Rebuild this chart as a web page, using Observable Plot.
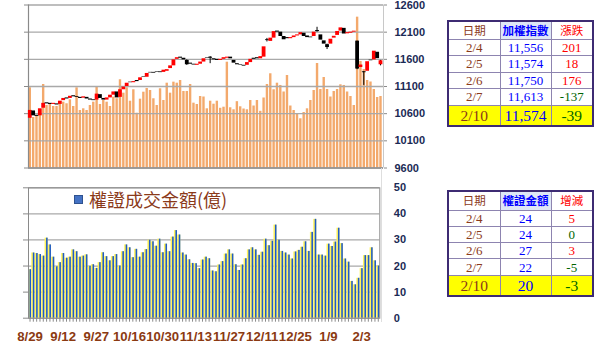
<!DOCTYPE html>
<html><head><meta charset="utf-8">
<script src="https://cdn.jsdelivr.net/npm/d3@7"></script>
<script src="https://cdn.jsdelivr.net/npm/@observablehq/plot@0.6"></script>
<style>
body{margin:0;background:#fff;}
#wrap{position:relative;width:598px;height:349px;overflow:hidden;background:#fff;}
.layer{position:absolute;left:0;}
table.t{position:absolute;border-collapse:collapse;border:2px solid #3d2b73;table-layout:fixed;width:145px;}
table.t td{border:1px solid #8d84b0;text-align:center;padding:0;font-family:"Liberation Serif",serif;font-size:13px;line-height:1;white-space:nowrap;overflow:hidden;}
table.t tr.h td{font-family:"Noto Sans CJK TC",sans-serif;font-size:11.5px;}
table.t tr.last td{background:#ffff00;font-size:15.5px;}
#legend{position:absolute;left:74px;top:188px;height:22px;display:flex;align-items:center;font-family:"Noto Sans CJK TC",sans-serif;font-size:18px;color:#8b3a1a;white-space:nowrap;}
#legend span.sw{display:inline-block;width:7px;height:7px;background:#4472c4;border:1px solid #2f528f;margin-right:6px;}
#vline{position:absolute;left:381px;top:168px;width:1px;height:154px;background:#dedede;}
</style></head>
<body><div id="wrap"></div>
<script>
// ---------- data ----------
const xLabels = ["8/29","9/12","9/27","10/16","10/30","11/13","11/27","12/11","12/25","1/9","2/3"];
const indexTicks = [9600,10100,10600,11100,11600,12100,12600];
const warrantTicks = [0,10,20,30,40,50];
const openIdx = [10515,10650,10570,10560,10700,10800,10790,10770,10780,10770,
10840,10890,10880,10930,10915,10900,10885,10900,10870,10855,
10850,10950,10880,10850,10890,10940,11000,10900,11040,11100,
11180,11170,11210,11210,11280,11270,11360,11360,11370,11370,
11360,11380,11430,11480,11600,11640,11620,11580,11530,11510,
11490,11510,11550,11630,11640,11610,11600,11580,11600,11620,
11640,11580,11520,11500,11490,11490,11540,11620,11630,11610,
11640,11960,11930,11990,12120,12100,12020,12000,11980,12000,
12030,12050,12080,12030,12010,12020,12130,12050,11940,11870,
11880,11990,12040,12120,12170,12070,12080,12100,11935,11450,
11370,11380,11585,11590,11730,11500];
const closeIdx = [10660,10560,10550,10690,10790,10780,10770,10790,10760,10830,
10880,10870,10920,10910,10900,10880,10910,10870,10850,10840,
10960,10880,10850,10890,10940,11000,10890,11040,11090,11160,
11170,11190,11190,11260,11270,11340,11350,11345,11360,11355,
11400,11410,11480,11590,11630,11620,11590,11500,11510,11495,
11510,11550,11610,11620,11620,11590,11580,11600,11630,11640,
11610,11530,11500,11490,11475,11540,11600,11600,11610,11650,
11830,11945,11990,12110,12100,12020,11960,11980,12000,12030,
12050,12090,12020,12000,11997,12100,12110,11953,11880,11817,
11970,12024,12113,12179,12066,12091,12100,12118,11421,11495,
11354,11556,11574,11750,11613,11574];
// wicks: [day index, low, high]
const wicks = [[47,11490,11590],[54,11520,11650],[71,11920,11985],[86,12100,12190],[89,11780,11880],[98,11410,11935],[100,11120,11376],[105,11480,11580]];
// market turnover (orange bars, 億)
const volume = [1550,976,996,1073,1614,1208,1241,1189,1189,1241,
1272,1241,1318,1189,1550,1111,1144,1111,1208,1272,
1575,1227,1305,1272,1189,1369,1338,1705,1446,1550,
1291,1512,1059,1330,1465,1537,1498,1338,1208,1531,
1305,1639,1446,1659,1639,1691,1479,1479,1614,1253,
1227,1382,1372,1144,1291,1233,1291,1154,1175,2045,
1164,1125,1282,1183,1140,1125,1305,1198,1305,1096,
1353,1614,1821,1512,1639,1595,1469,1788,1198,1111,
1048,951,1073,1144,1305,1498,2020,1517,1749,1517,
1372,1479,1517,1608,1595,1469,1382,1208,2915,2059,
1904,1691,1662,1517,1363,1382];
// warrant turnover (億)
const warrant = [18.6,25,24.8,24.4,23.8,30.7,28.1,23.4,19.7,21.3,
24.8,23,23.4,26.2,25.5,23.4,23.8,24.3,19.9,20.5,
19.1,21.3,25.1,23.6,22,23.6,24.4,20,25.5,28.1,
27,23.2,26.4,23.4,25.1,26.3,29.9,29.3,27.6,30.3,
25.1,28.4,25.5,31.1,33.6,31.9,25,24.2,22.4,21,
20.9,19,22.3,23.4,22.8,18.1,17.8,20.4,21.7,24.6,
26.2,24.6,20.5,18.3,20.4,22.8,26.2,27,26.2,24.1,
25.3,30.3,27.8,29.5,35.7,29.9,25.6,25,24.2,22.7,
25.4,26,27.2,29.3,25.6,32.9,37.9,24.2,24.2,23.8,
28.4,27.5,29.2,34.5,28.6,22.7,21.5,14.1,12.8,15.3,
19,24,24,27,22,20];
// tables
const tableDates = ["2/4","2/5","2/6","2/7","2/10"];
const indexValues = ["11,556","11,574","11,750","11,613","11,574"];
const indexChanges = [201,18,176,-137,-39];
const warrantValues = [24,24,27,22,20];
const warrantChanges = [5,0,3,-5,-3];
const legendText = "權證成交金額(億)";

// ---------- build ----------
const wrap = document.getElementById("wrap");
const N = closeIdx.length;
const days = d3.range(N);
const candles = days.map(i => ({i, o: openIdx[i], c: closeIdx[i], up: closeIdx[i] >= openIdx[i]}));
const xTop = [-0.39, 105.9];
const axisFont = {fontFamily: "Liberation Sans, Arial, sans-serif", fontSize: "11px", fontWeight: "bold"};

function place(el, top){ el.classList.add("layer"); el.style.top = top + "px"; wrap.appendChild(el); }

// layer 1: orange turnover bars
place(Plot.plot({
  width: 598, height: 175, marginLeft: 28, marginRight: 215, marginTop: 4.5, marginBottom: 7.5,
  style: {background: "transparent"},
  x: {domain: xTop, axis: null},
  y: {domain: [0, 3150], axis: null},
  marks: [
    Plot.ruleX(days, {x: i => i, y1: 0, y2: i => volume[i], stroke: "#f3a96c", strokeWidth: 2.4})
  ]
}), 0);

// layer 2: index candles + axes
place(Plot.plot({
  width: 598, height: 175, marginLeft: 28, marginRight: 215, marginTop: 4.5, marginBottom: 7.5,
  style: Object.assign({background: "transparent", overflow: "visible"}, axisFont),
  x: {domain: xTop, axis: null},
  y: {domain: [9600, 12600], axis: null},
  marks: [
    Plot.gridY(indexTicks, {stroke: "#a9a9a9", strokeOpacity: 1, strokeWidth: 1.3}),
    Plot.ruleX([xTop[1]], {stroke: "#c8c8c8"}),
    Plot.ruleX([xTop[0]], {stroke: "#8a8a8a", strokeWidth: 1.2}),
    Plot.ruleY([9600], {stroke: "#7a7a7a", strokeWidth: 1.2}),
    Plot.axisY(indexTicks, {anchor: "left", tickSize: 4, tickFormat: () => "", stroke: "#8a8a8a"}),
    Plot.axisY(indexTicks, {anchor: "right", tickSize: 3, tickPadding: 8, tickFormat: d => String(d), stroke: "#8a8a8a", fill: "#1b2a55", textAnchor: "start"}),
    Plot.ruleX(wicks, {x: d => d[0], y1: d => d[1], y2: d => d[2], stroke: "#000", strokeWidth: 1}),
    Plot.ruleX(candles, {x: "i", y1: "o", y2: "c", stroke: d => d.up ? "#ff0000" : "#000000", strokeWidth: 3.8})
  ]
}), 0);

// bottom: warrant turnover
place(Plot.plot({
  width: 598, height: 174, marginLeft: 28, marginRight: 218.7, marginTop: 12.3, marginBottom: 31.3,
  style: Object.assign({background: "transparent", overflow: "visible"}, axisFont),
  x: {type: "band", domain: days, paddingInner: 0.08, paddingOuter: 0, axis: null},
  y: {domain: [0, 50], axis: null},
  marks: [
    Plot.gridY(warrantTicks, {stroke: "#a9a9a9", strokeOpacity: 1, strokeWidth: 1.3}),
    Plot.barY(days, {x: i => i, y: i => warrant[i], fill: "#fff35c"}),
    Plot.barY(days, {x: i => i, y: i => warrant[i], fill: "#1f5bc8", insetLeft: 1.5}),
    Plot.frame({stroke: "#8a8a8a"}),
    Plot.axisY(warrantTicks, {anchor: "left", tickSize: 5, tickFormat: () => "", stroke: "#8a8a8a"}),
    Plot.axisY(warrantTicks, {anchor: "right", tickSize: 0, tickPadding: 14, tickFormat: d => String(d), fill: "#1b2a55", textAnchor: "start"}),
    Plot.axisX(days, {tickSize: 4, tickPadding: 9, stroke: "#8a8a8a", fill: "#8b3a12", fontSize: "13.2px",
      tickFormat: i => i % 10 === 0 ? xLabels[i / 10] : ""})
  ]
}), 175);

// legend
const lg = document.createElement("div");
lg.id = "legend";
lg.innerHTML = '<span class="sw"></span>' + legendText;
wrap.appendChild(lg);
const vl = document.createElement("div"); vl.id = "vline"; wrap.appendChild(vl);

// tables
function makeTable(top, heads, vals, chgs, rowH, headH, lastH) {
  const t = document.createElement("table");
  t.className = "t";
  t.style.left = "447px"; t.style.top = top + "px";
  const cg = document.createElement("colgroup");
  [52, 51, 42].forEach(w => { const c = document.createElement("col"); c.style.width = w + "px"; cg.appendChild(c); });
  t.appendChild(cg);
  const hr = document.createElement("tr"); hr.className = "h"; hr.style.height = headH + "px";
  const hc = ["#8b3a1a", "#0000ff", "#ff0000"];
  heads.forEach((h, k) => { const td = document.createElement("td"); td.textContent = h; td.style.color = hc[k];
    if (k === 1) { td.style.background = "#dfe7f6"; td.style.fontWeight = "bold"; } hr.appendChild(td); });
  t.appendChild(hr);
  tableDates.forEach((d, r) => {
    const tr = document.createElement("tr");
    const last = r === tableDates.length - 1;
    if (last) tr.className = "last";
    tr.style.height = (last ? lastH : rowH) + "px";
    const cells = [d, String(vals[r]), String(chgs[r])];
    const cols = ["#8b3a1a", "#0000ff", chgs[r] > 0 ? "#ff0000" : "#006400"];
    cells.forEach((v, k) => { const td = document.createElement("td"); td.textContent = v; td.style.color = cols[k]; tr.appendChild(td); });
    t.appendChild(tr);
  });
  wrap.appendChild(t);
}
makeTable(20, ["日期", "加權指數", "漲跌"], indexValues, indexChanges, 16.5, 18, 21);
makeTable(189.5, ["日期", "權證金額", "增減"], warrantValues, warrantChanges, 16.3, 19.5, 21);
</script></body></html>
